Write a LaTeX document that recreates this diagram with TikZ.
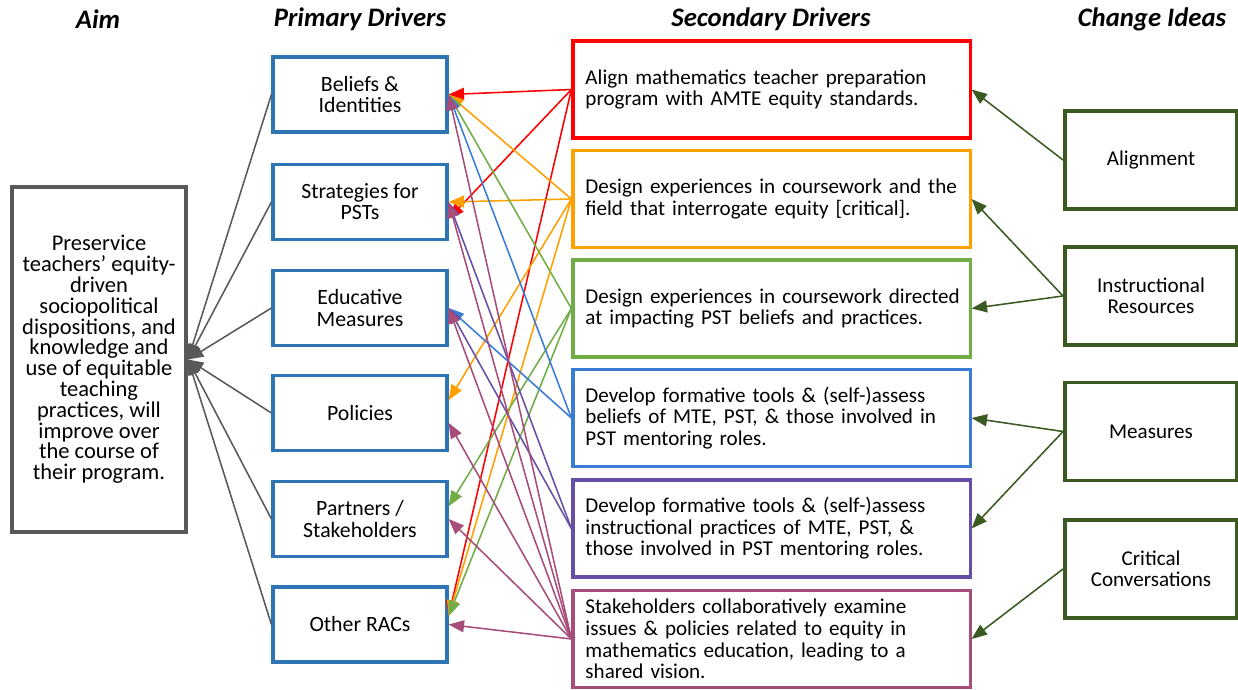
\documentclass[tikz,border=0pt]{standalone}
\usepackage{fontspec}
\setmainfont{Carlito}
\usepackage{tikz}
\usetikzlibrary{arrows.meta}
\definecolor{pblue}{HTML}{2E75B6}
\definecolor{sred}{HTML}{FF0000}
\definecolor{sorange}{HTML}{FFA000}
\definecolor{sgreen}{HTML}{70AD47}
\definecolor{sblue}{HTML}{3A7BD5}
\definecolor{spurple}{HTML}{674EA7}
\definecolor{smaroon}{HTML}{A64D79}
\definecolor{cgreen}{HTML}{3B5A22}
\definecolor{aimgray}{HTML}{595959}

\begin{document}
\begin{tikzpicture}[x=0.025cm,y=-0.025cm,
    head/.style={font=\fontsize{19}{19}\selectfont\bfseries\itshape},
    pbox/.style={draw=pblue,line width=2.2pt,minimum width=4.35cm,minimum height=1.875cm,
      align=center,font=\fontsize{15.5}{15}\selectfont},
    sbox/.style={line width=2.2pt,minimum width=9.925cm,minimum height=2.425cm,
      text width=9.3cm,inner xsep=0.3125cm,align=left,font=\fontsize{15}{15.3}\selectfont},
    cbox/.style={draw=cgreen,line width=2.8pt,minimum width=4.3cm,minimum height=2.45cm,
      align=center,font=\fontsize{15}{15}\selectfont},
    link/.style={line width=1.1pt,-{Triangle[length=11pt,width=8.5pt]}}]
  \useasboundingbox (0,0) rectangle (1238,690);
  % column headings
  \node[head] (haim) at (98,19) {Aim};
  \node[head] (hprim) at (360,19) {Primary Drivers};
  \node[head] (hsec) at (771,19) {Secondary Drivers};
  \node[head] (hchg) at (1152,19) {Change Ideas};
  % aim
  \node[draw=aimgray,line width=2.8pt,minimum width=4.35cm,minimum height=8.625cm,
    align=center,font=\fontsize{16}{14.8}\selectfont] (aim) at (99,359.5)
    {Preservice\\teachers’ equity-\\driven\\sociopolitical\\dispositions, and\\knowledge and\\use of equitable\\teaching\\practices, will\\improve over\\the course of\\their program.};
  % primary drivers
  \node[pbox] (p1) at (360,94.5) {Beliefs \&\\Identities};
  \node[pbox] (p2) at (360,202) {Strategies for\\PSTs};
  \node[pbox] (p3) at (360,308) {Educative\\Measures};
  \node[pbox] (p4) at (360,413) {Policies};
  \node[pbox] (p5) at (360,519) {Partners /\\Stakeholders};
  \node[pbox] (p6) at (360,624.5) {Other RACs};
  % secondary drivers
  \node[sbox,draw=sred] (s1) at (771.5,89.5) {Align mathematics teacher preparation\\program with AMTE equity standards.};
  \node[sbox,draw=sorange] (s2) at (771.5,199) {Design experiences in coursework and the\\field that interrogate equity [critical].};
  \node[sbox,draw=sgreen] (s3) at (771.5,308.5) {\mbox{Design experiences in coursework directed}\\at impacting PST beliefs and practices.};
  \node[sbox,draw=sblue] (s4) at (771.5,418) {Develop formative tools \& (self-)assess\\beliefs of MTE, PST, \& those involved in\\PST mentoring roles.};
  \node[sbox,draw=spurple] (s5) at (771.5,528.5) {Develop formative tools \& (self-)assess\\instructional practices of MTE, PST, \&\\those involved in PST mentoring roles.};
  \node[sbox,draw=smaroon] (s6) at (771.5,639) {Stakeholders collaboratively examine\\issues \& policies related to equity in\\mathematics education, leading to a\\shared vision.};
  % change ideas
  \node[cbox] (c1) at (1151,160) {Alignment};
  \node[cbox] (c2) at (1151,296) {Instructional\\Resources};
  \node[cbox] (c3) at (1151,431.5) {Measures};
  \node[cbox] (c4) at (1151,569) {Critical\\Conversations};
  % primary drivers to aim
  \draw[link,aimgray] (p1.west) -- (aim.east);
  \draw[link,aimgray] (p2.west) -- (aim.east);
  \draw[link,aimgray] (p3.west) -- (aim.east);
  \draw[link,aimgray] (p4.west) -- (aim.east);
  \draw[link,aimgray] (p5.west) -- (aim.east);
  \draw[link,aimgray] (p6.west) -- (aim.east);
  % secondary to primary drivers
  \draw[link,sred] (s1.west) -- (p1.east);
  \draw[link,sred] (s1.west) -- ([yshift=-12]p2.east);
  \draw[link,sred] (s1.west) -- ([yshift=6]p6.east);
  \draw[link,sorange] (s2.west) -- (p1.east);
  \draw[link,sorange] (s2.west) -- (p2.east);
  \draw[link,sorange] (s2.west) -- ([yshift=9]p4.east);
  \draw[link,sorange] (s2.west) -- ([yshift=6]p6.east);
  \draw[link,sgreen] (s3.west) -- (p1.east);
  \draw[link,sgreen] (s3.west) -- ([yshift=9]p5.east);
  \draw[link,sgreen] (s3.west) -- ([yshift=6]p6.east);
  \draw[link,sblue] (s4.west) -- (p1.east);
  \draw[link,sblue] (s4.west) -- (p3.east);
  \draw[link,spurple] (s5.west) -- (p2.east);
  \draw[link,spurple] (s5.west) -- (p3.east);
  \draw[link,smaroon] (s6.west) -- (p1.east);
  \draw[link,smaroon] (s6.west) -- (p2.east);
  \draw[link,smaroon] (s6.west) -- (p3.east);
  \draw[link,smaroon] (s6.west) -- ([yshift=-7]p4.east);
  \draw[link,smaroon] (s6.west) -- (p5.east);
  \draw[link,smaroon] (s6.west) -- (p6.east);
  % change ideas to secondary drivers
  \draw[link,cgreen] (c1.west) -- (s1.east);
  \draw[link,cgreen] (c2.west) -- (s2.east);
  \draw[link,cgreen] (c2.west) -- (s3.east);
  \draw[link,cgreen] (c3.west) -- (s4.east);
  \draw[link,cgreen] (c3.west) -- (s5.east);
  \draw[link,cgreen] (c4.west) -- (s6.east);
\end{tikzpicture}
\end{document}
